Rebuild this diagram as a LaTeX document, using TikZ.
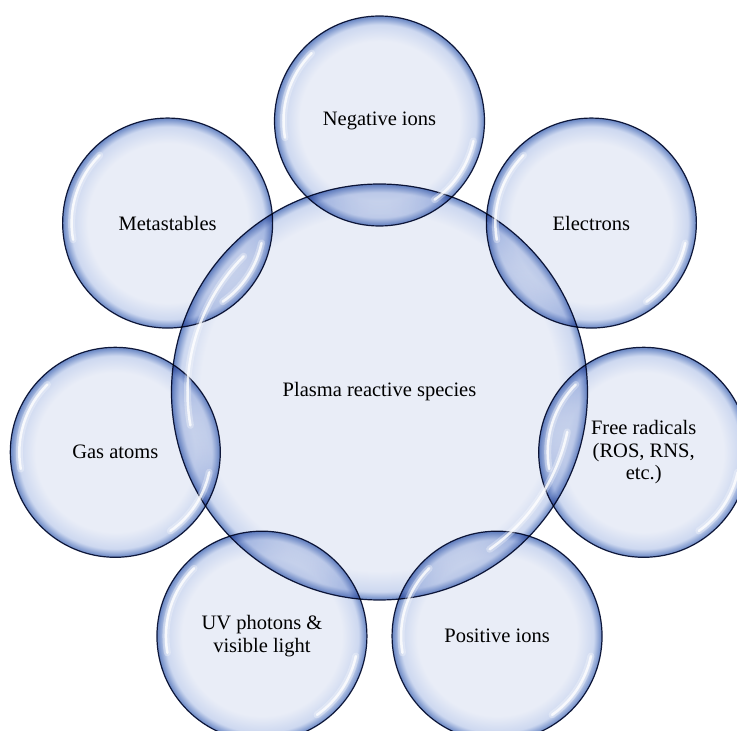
\documentclass[tikz,border=0pt]{standalone}
\usepackage{fontspec}
\setmainfont{Liberation Serif}
\usetikzlibrary{calc}
\definecolor{bubin}{RGB}{233,237,247}
\definecolor{bubmid}{RGB}{205,216,240}
\definecolor{bubdeep}{RGB}{104,134,196}
\definecolor{bubline}{RGB}{22,32,66}
\pgfdeclareradialshading{bubshade}{\pgfpoint{0bp}{0bp}}{color(0bp)=(bubin); color(19bp)=(bubin); color(23bp)=(bubmid); color(25bp)=(bubdeep); color(50bp)=(bubdeep)}
\pgfdeclareradialshading{coreshade}{\pgfpoint{0bp}{0bp}}{color(0bp)=(bubin); color(21.5bp)=(bubin); color(24bp)=(bubmid); color(25bp)=(bubdeep); color(50bp)=(bubdeep)}
\tikzset{
	bubble/.style={circle, draw=bubline, line width=1.2pt, shade, shading=bubshade,
		blend mode=multiply, inner sep=0pt, outer sep=0pt, minimum size=210pt,
		align=center, font=\fontsize{20.5}{22.5}\selectfont},
	corebub/.style={bubble, shading=coreshade, minimum size=416pt},
	hlsoft/.style={white, line width=7pt, line cap=round, opacity=0.3},
	hl/.style={white, line width=2.5pt, line cap=round, opacity=0.8},
}
\begin{document}
\begin{tikzpicture}[x=1pt, y=1pt]
	\useasboundingbox (-379.5,392) rectangle (357.5,-339);
	\node[corebub] at (0,0) (core) {Plasma reactive species};
	\node[bubble] at (90:271) (neg) {Negative ions};
	\node[bubble] at (141.43:271) (meta) {Metastables};
	\node[bubble] at (192.86:271) (gas) {Gas atoms};
	\node[bubble] at (244.29:271) (uv) {UV photons \&\\visible light};
	\node[bubble] at (295.71:271) (pos) {Positive ions};
	\node[bubble] at (347.14:271) (rad) {Free radicals\\(ROS, RNS,\\etc.)};
	\node[bubble] at (38.57:271) (elec) {Electrons};
	% glossy highlights
	\foreach \n/\r in {core/192, neg/96, meta/96, gas/96, uv/96, pos/96, rad/96, elec/96}{
		\foreach \s in {hlsoft, hl}{
			\draw[\s] ([shift={(135:\r)}]\n.center) arc[start angle=135, end angle=190, radius=\r];
			\draw[\s] ([shift={(-55:\r)}]\n.center) arc[start angle=-55, end angle=-12, radius=\r];
		}
	}
\end{tikzpicture}
\end{document}
